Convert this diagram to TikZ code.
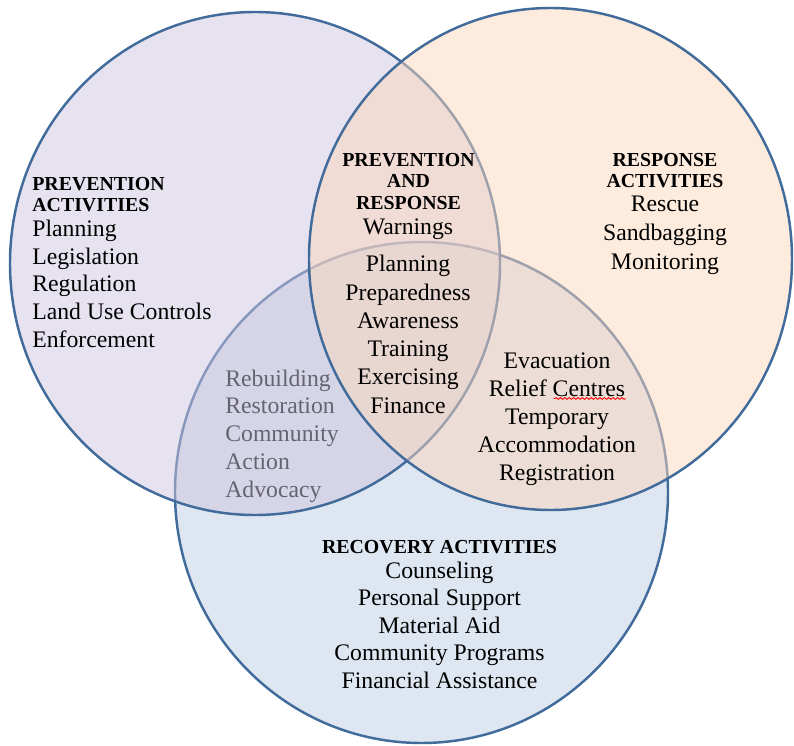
\documentclass[tikz,border=0pt]{standalone}
\usepackage{fontspec}
\setmainfont{Liberation Serif}
\usetikzlibrary{decorations.pathmorphing}

\definecolor{ringline}{RGB}{65,107,155}
\definecolor{prevfill}{RGB}{207,197,223}
\definecolor{respfill}{RGB}{251,215,187}
\definecolor{recofill}{RGB}{189,205,227}
\definecolor{recotext}{RGB}{100,100,112}

\tikzset{
  ring/.style={draw=ringline,line width=1.4pt,fill opacity=0.5},
  head/.style={font=\fontsize{11.3}{12}\selectfont\bfseries,inner sep=0pt,anchor=base},
  item/.style={font=\fontsize{13.5}{15}\selectfont,inner sep=0pt,anchor=base},
  spellmark/.style={draw=red,line width=0.5pt,decorate,
    decoration={snake,amplitude=0.5pt,segment length=2.5pt}}
}

\begin{document}
\begin{tikzpicture}[x=0.02cm,y=-0.02cm]
    \useasboundingbox(0,0)rectangle(794,746);

    \coordinate(c1)at(255,263.5);
    \coordinate(c2)at(550.5,259);
    \coordinate(c3)at(421.5,492.5);

    % rings: recovery first, prevention, then response on top
    \filldraw[ring,fill=recofill](c3)ellipse[x radius=246.5,y radius=250.5];
    \filldraw[ring,fill=prevfill](c1)ellipse[x radius=245,y radius=251.5];
    \filldraw[ring,fill=respfill](c2)ellipse[x radius=241.5,y radius=251];

    % prevention
    \node[head,anchor=base west](pa1)at(32,191){PREVENTION};
    \node[head,anchor=base west](pa2)at(32,212){ACTIVITIES};
    \foreach\T[count=\i]in{Planning,Legislation,Regulation,Land Use Controls,Enforcement}
      \node[item,anchor=base west](pv\i)at(32,{237+27.5*(\i-1)}){\T};

    % prevention and response
    \node[head](pr1)at(408.5,167){PREVENTION};
    \node[head](pr2)at(408.5,188){AND};
    \node[head](pr3)at(408.5,210){RESPONSE};
    \node[item](pw)at(408,235){Warnings};
    \foreach\T[count=\i]in{Planning,Preparedness,Awareness,Training,Exercising,Finance}
      \node[item](pc\i)at(408,{272+28.2*(\i-1)}){\T};

    % response
    \node[head](ra1)at(665,167){RESPONSE};
    \node[head](ra2)at(665,188){ACTIVITIES};
    \foreach\T[count=\i]in{Rescue,Sandbagging,Monitoring}
      \node[item](rs\i)at(665,{212+29*(\i-1)}){\T};

    % response and recovery
    \foreach\T[count=\i]in{Evacuation,Relief Centres,Temporary,Accommodation,Registration}
      \node[item](rr\i)at(557,{368+28*(\i-1)}){\T};
    \draw[spellmark]([yshift=-1.4pt]rr2.base east)--++(-72,0);

    % prevention and recovery
    \foreach\T[count=\i]in{Rebuilding,Restoration,Community,Action,Advocacy}
      \node[item,anchor=base west,text=recotext](pq\i)at(225,{386+27.8*(\i-1)}){\T};

    % recovery
    \node[head](ca)at(439.5,553){RECOVERY ACTIVITIES};
    \foreach\T[count=\i]in{Counseling,Personal Support,Material Aid,Community Programs,Financial Assistance}
      \node[item](cv\i)at(439.5,{578+27.5*(\i-1)}){\T};
\end{tikzpicture}
\end{document}
